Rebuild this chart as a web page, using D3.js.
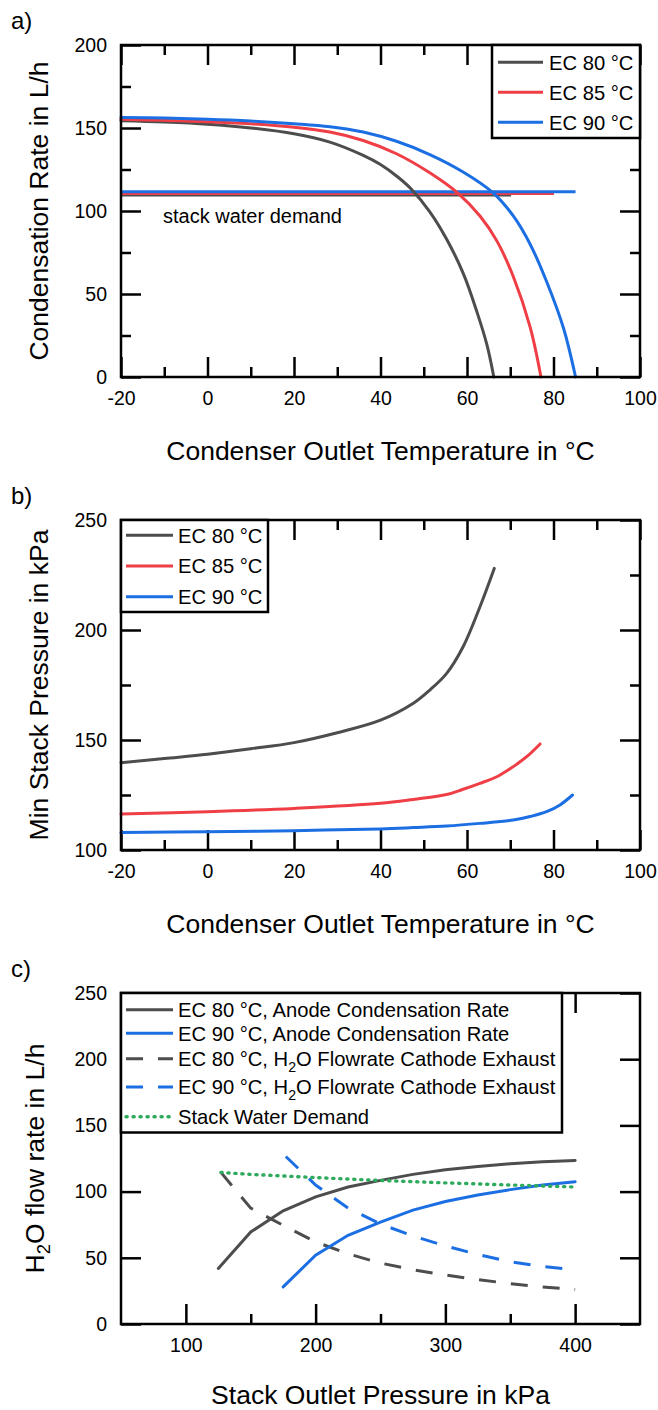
<!DOCTYPE html>
<html>
<head>
<meta charset="utf-8">
<script src="https://cdn.jsdelivr.net/npm/d3@7"></script>
<style>
  body { margin: 0; background: #fff; }
  svg { display: block; font-family: "Liberation Sans", Arial, sans-serif; }
</style>
</head>
<body>
<svg id="chart"></svg>
<script>
// a) condensation rate vs condenser outlet temperature
const tempA80 = [-20, -10, 0, 10, 20, 28.3, 36, 40, 44, 47.2, 51.4, 55.3, 59.2, 62.2, 64.6, 66.2];
const rateA80 = [154.4, 153.6, 152.3, 150, 146.5, 141.5, 133.5, 128, 120.5, 113, 99.5, 83, 62, 40, 19.5, 0];
const tempA85 = [-20, -10, 0, 10, 20, 28.3, 36, 43.7, 51.4, 58, 63, 66.9, 70.7, 74.6, 77.1];
const rateA85 = [155.2, 154.6, 153.8, 152.5, 150.5, 147.6, 142.5, 134.5, 123, 110.5, 97, 82, 60.5, 30, 0];
const tempA90 = [-20, -10, 0, 10, 20, 28.3, 36, 43.7, 51.4, 59.1, 66.1, 70.7, 74.6, 78.4, 82.3, 85.1];
const rateA90 = [156.4, 156, 155.3, 154.2, 152.6, 150.8, 147.6, 142, 134, 123.5, 110.8, 97, 80, 57.5, 29.5, 0];
// stack water demand lines: end temperature and level per EC temperature
const demandEnd = [70.2, 80.1, 85.1];
const demandLevel = [109.7, 110.6, 111.6];

// b) min stack pressure
const tempB80 = [-20, -10, 0, 10, 20, 30, 40, 47.6, 51.4, 55.3, 59.1, 63, 66.3];
const pressB80 = [139.7, 141.6, 143.5, 146, 148.8, 153.3, 159, 166.7, 172.7, 180.3, 192.4, 210.6, 228];
const tempB85 = [-20, 0, 20, 40, 47.6, 55.3, 59.1, 63, 66.9, 70.7, 73.8, 76.9];
const pressB85 = [116.4, 117.4, 118.9, 121.2, 123, 125.2, 127.6, 130.3, 133.3, 137.9, 142.4, 148.2];
const tempB90 = [-20, 0, 20, 40, 47.6, 55.3, 63, 70.7, 74.6, 78.4, 81.5, 84.4];
const pressB90 = [107.9, 108.3, 108.8, 109.6, 110.2, 110.9, 112.1, 113.6, 115.2, 117.4, 120.5, 125];

// c) H2O flow rates vs stack outlet pressure
const pressC80Anode = [125, 150, 175, 200, 225, 250, 275, 300, 325, 350, 375, 400];
const rateC80Anode = [42, 69.5, 85.5, 96, 103.5, 108.5, 113, 116.5, 119, 121, 122.5, 123.5];
const pressC90Anode = [175, 200, 225, 250, 275, 300, 325, 350, 375, 400];
const rateC90Anode = [28, 52, 67, 77, 86, 92.5, 97.5, 101.5, 105, 107.5];
const pressC80Cath = [127, 150, 175, 200, 225, 250, 275, 300, 325, 350, 375, 400];
const rateC80Cath = [114.5, 87.5, 74.5, 62, 53, 46, 41, 37, 33.5, 30.5, 28, 26];
const pressC90Cath = [177, 200, 225, 250, 275, 300, 325, 350, 375, 400];
const rateC90Cath = [126.5, 105, 87.5, 75.5, 66.5, 59, 52.5, 47, 43.5, 41];
const pressDemand = [127, 150, 175, 200, 250, 300, 350, 400];
const rateDemand = [114.5, 113, 111.8, 110.6, 108.4, 106.6, 105, 103.5];

const ecLabels = ["EC 80 °C", "EC 85 °C", "EC 90 °C"];
const cLabels = ["EC 80 °C, Anode Condensation Rate", "EC 90 °C, Anode Condensation Rate",
  "EC 80 °C, H_2O Flowrate Cathode Exhaust", "EC 90 °C, H_2O Flowrate Cathode Exhaust", "Stack Water Demand"];

const tempTicks = [-20, 0, 20, 40, 60, 80, 100];
const tempMinor = [-10, 10, 30, 50, 70, 90];

const grey = "#4d4d4d", red = "#ef3e46", blue = "#1c6fe3", green = "#2eaa5d";
const ecColors = [grey, red, blue];

const svg = d3.select("#chart").attr("width", 658).attr("height", 1410);

function zip(xs, ys) { return xs.map((v, i) => [v, ys[i]]); }

// "_2" in a label becomes a subscript 2
function richText(t, str) {
  const parts = str.split(/_(\d)/);
  parts.forEach((p, i) => {
    if (i % 2 === 1) {
      t.append("tspan").attr("dy", 6).style("font-size", "0.7em").text(p);
    } else if (p) {
      const s = t.append("tspan").text(p);
      if (i > 0) s.attr("dy", -6);
    }
  });
}

function drawAxes(box, x, y, t) {
  const g = svg.append("g");
  const put = (axis, tx, ty) => {
    const a = g.append("g").attr("transform", `translate(${tx},${ty})`).call(axis)
      .attr("font-family", null).attr("font-size", null);
    a.select(".domain").remove();
    a.selectAll("line").attr("stroke", "#000").attr("stroke-width", 2.5);
    a.selectAll("text").attr("fill", "#000").style("font-size", "19.5px");
  };
  const fmt = d => String(d);
  put(d3.axisBottom(x).tickValues(t.xMajor).tickSize(-20).tickPadding(14.3).tickFormat(fmt), 0, box.bottom);
  put(d3.axisBottom(x).tickValues(t.xMinor).tickSize(-10).tickFormat(""), 0, box.bottom);
  put(d3.axisTop(x).tickValues(t.xMajor).tickSize(-20).tickFormat(""), 0, box.top);
  put(d3.axisTop(x).tickValues(t.xMinor).tickSize(-10).tickFormat(""), 0, box.top);
  put(d3.axisLeft(y).tickValues(t.yMajor).tickSize(-20).tickPadding(14).tickFormat(fmt), box.left, 0);
  put(d3.axisLeft(y).tickValues(t.yMinor).tickSize(-10).tickFormat(""), box.left, 0);
  put(d3.axisRight(y).tickValues(t.yMajor).tickSize(-20).tickFormat(""), box.right, 0);
  put(d3.axisRight(y).tickValues(t.yMinor).tickSize(-10).tickFormat(""), box.right, 0);
}

function drawFrame(box) {
  svg.append("rect")
    .attr("x", box.left).attr("y", box.top)
    .attr("width", box.right - box.left).attr("height", box.bottom - box.top)
    .attr("fill", "none").attr("stroke", "#000").attr("stroke-width", 2.5);
}

function drawTitles(box, tag, xTitle, yTitle, yTitleX, xTitleGap) {
  svg.append("text").attr("x", 11).attr("y", box.top - 16)
    .style("font-size", "24px").text(tag);
  svg.append("text").attr("x", (box.left + box.right) / 2).attr("y", box.bottom + xTitleGap)
    .attr("text-anchor", "middle").style("font-size", "26.5px").text(xTitle);
  const yt = svg.append("text")
    .attr("transform", `translate(${yTitleX},${(box.top + box.bottom) / 2}) rotate(-90)`)
    .attr("text-anchor", "middle").style("font-size", "26.5px");
  richText(yt, yTitle);
}

function drawLegend(lb, rows) {
  const g = svg.append("g");
  g.append("rect").attr("x", lb.left).attr("y", lb.top)
    .attr("width", lb.right - lb.left).attr("height", lb.bottom - lb.top)
    .attr("fill", "#fff").attr("stroke", "#000").attr("stroke-width", 2.5);
  rows.forEach(r => {
    g.append("line").attr("x1", lb.x1).attr("x2", lb.x2).attr("y1", r.y).attr("y2", r.y)
      .attr("stroke", r.color).attr("stroke-width", r.width || 3)
      .attr("stroke-dasharray", r.dash || null)
      .attr("stroke-linecap", r.cap || "butt");
    const t = g.append("text").attr("x", lb.tx).attr("y", r.y + 7.3)
      .style("font-size", "20.2px");
    richText(t, r.label);
  });
}

const smooth = d3.curveCatmullRom.alpha(0.5);

function drawLine(x, y, pts, color, opt = {}) {
  const line = d3.line().x(d => x(d[0])).y(d => y(d[1])).curve(opt.curve || smooth);
  svg.append("path").attr("d", line(pts))
    .attr("fill", "none").attr("stroke", color).attr("stroke-width", opt.width || 3)
    .attr("stroke-dasharray", opt.dash || null)
    .attr("stroke-linecap", opt.cap || "round");
}

// ---------- panel a ----------
const boxA = { left: 121, right: 640, top: 45, bottom: 377 };
const xA = d3.scaleLinear().domain([-20, 100]).range([boxA.left, boxA.right]);
const yA = d3.scaleLinear().domain([0, 200]).range([boxA.bottom, boxA.top]);
drawAxes(boxA, xA, yA, { xMajor: tempTicks, xMinor: tempMinor, yMajor: [0, 50, 100, 150, 200], yMinor: [25, 75, 125, 175] });
demandLevel.forEach((lv, i) => {
  drawLine(xA, yA, [[-20, lv], [demandEnd[i], lv]], ecColors[i], { curve: d3.curveLinear, cap: "butt" });
});
drawLine(xA, yA, zip(tempA80, rateA80), grey);
drawLine(xA, yA, zip(tempA85, rateA85), red);
drawLine(xA, yA, zip(tempA90, rateA90), blue);
svg.append("text").attr("x", 163).attr("y", 222.5).style("font-size", "20px").text("stack water demand");
drawFrame(boxA);
drawLegend({ left: 492, right: 640, top: 45, bottom: 138, x1: 498, x2: 543, tx: 549 },
  ecLabels.map((l, i) => ({ label: l, color: ecColors[i], y: 62.3 + i * 30 })));
drawTitles(boxA, "a)", "Condenser Outlet Temperature in °C", "Condensation Rate in L/h", 48, 83);

// ---------- panel b ----------
const boxB = { left: 121, right: 640, top: 520, bottom: 850 };
const xB = d3.scaleLinear().domain([-20, 100]).range([boxB.left, boxB.right]);
const yB = d3.scaleLinear().domain([100, 250]).range([boxB.bottom, boxB.top]);
drawAxes(boxB, xB, yB, { xMajor: tempTicks, xMinor: tempMinor, yMajor: [100, 150, 200, 250], yMinor: [125, 175, 225] });
drawLine(xB, yB, zip(tempB80, pressB80), grey);
drawLine(xB, yB, zip(tempB85, pressB85), red);
drawLine(xB, yB, zip(tempB90, pressB90), blue);
drawFrame(boxB);
drawLegend({ left: 121, right: 268, top: 520, bottom: 612, x1: 126, x2: 173, tx: 178 },
  ecLabels.map((l, i) => ({ label: l, color: ecColors[i], y: 535.3 + i * 30.7 })));
drawTitles(boxB, "b)", "Condenser Outlet Temperature in °C", "Min Stack Pressure in kPa", 48, 83);

// ---------- panel c ----------
const boxC = { left: 121, right: 640, top: 993, bottom: 1324 };
const xC = d3.scaleLinear().domain([50, 450]).range([boxC.left, boxC.right]);
const yC = d3.scaleLinear().domain([0, 250]).range([boxC.bottom, boxC.top]);
drawAxes(boxC, xC, yC, { xMajor: [100, 200, 300, 400], xMinor: [150, 250, 350], yMajor: [0, 50, 100, 150, 200, 250], yMinor: [] });
const lin = d3.curveLinear;
drawLine(xC, yC, zip(pressC80Cath, rateC80Cath), grey, { curve: lin, dash: "17,15", cap: "butt" });
drawLine(xC, yC, zip(pressC90Cath, rateC90Cath), blue, { curve: lin, dash: "17,15", cap: "butt" });
drawLine(xC, yC, zip(pressC80Anode, rateC80Anode), grey, { curve: lin });
drawLine(xC, yC, zip(pressC90Anode, rateC90Anode), blue, { curve: lin });
drawLine(xC, yC, zip(pressDemand, rateDemand), green, { curve: lin, dash: "1.2,5.8", width: 3.4 });
drawFrame(boxC);
const cStyles = [
  { color: grey }, { color: blue },
  { color: grey, dash: "17,15" }, { color: blue, dash: "17,15" },
  { color: green, dash: "1.2,5.8", cap: "round", width: 3.4 }
];
const cRowY = [1009.7, 1033.3, 1058.8, 1087, 1116.7];
drawLegend({ left: 121, right: 562, top: 993, bottom: 1132.5, x1: 126, x2: 173, tx: 178 },
  cLabels.map((l, i) => Object.assign({ label: l, y: cRowY[i] }, cStyles[i])));
drawTitles(boxC, "c)", "Stack Outlet Pressure in kPa", "H_2O flow rate in L/h", 44, 80);
</script>
</body>
</html>
